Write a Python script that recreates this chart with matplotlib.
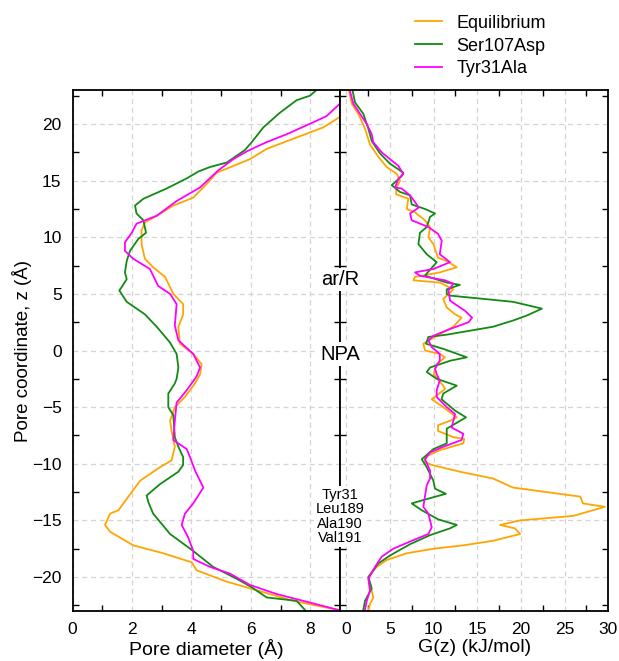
import numpy as np
import matplotlib
matplotlib.use("Agg")
import matplotlib.pyplot as plt
from matplotlib.ticker import MultipleLocator

plt.rcParams['font.family'] = ['Liberation Sans', 'DejaVu Sans']

names = ['Equilibrium', 'Ser107Asp', 'Tyr31Ala']
colors = ['#ffa500', '#138a13', '#ff00ff']

# pore diameter profiles (z in A, diameter in A)
z_diam_eq = [20.6, 19.7, 18.7, 17.8, 16.9, 16.3, 15.7, 14.7, 13.5, 12.8, 11.9, 11.3, 10.6, 9.4, 8.1,
             7.35, 6.5, 5.0, 4.1, 3.2, 2.1, 0.6, -0.3, -1.2, -2.1, -2.9, -4.1, -5.0, -6.2, -7.1,
             -8.5, -9.7, -10.3, -11.5, -12.5, -14.1, -14.4, -15.4, -16.0, -17.2, -17.9, -18.7,
             -19.4, -20.4, -21.0, -22.1, -22.9]
diam_eq = [8.98, 8.44, 7.43, 6.53, 5.97, 5.41, 4.85, 4.51, 4.06, 3.39, 2.83, 2.43, 2.32, 2.32, 2.43,
           2.71, 3.11, 3.39, 3.72, 3.72, 3.56, 3.61, 4.06, 4.34, 4.29, 4.12, 3.78, 3.44, 3.28, 3.33,
           3.44, 3.33, 2.94, 2.27, 1.99, 1.54, 1.26, 1.09, 1.26, 2.04, 3.05, 4.01,
           4.17, 5.18, 5.97, 7.43, 8.94]

z_diam_s107 = [23.0, 22.5, 22.1, 21.0, 19.7, 18.4, 17.7, 16.6, 16.2, 15.8, 15.2, 14.3, 13.4, 12.8,
               12.1, 11.5, 10.4, 9.85, 8.8, 7.9, 6.9, 6.3, 5.6, 5.3, 4.3, 3.2, 2.1, 0.7, -0.3, -1.5,
               -2.5, -2.9, -3.8, -5.0, -5.7, -7.65, -8.5, -9.4, -10.1, -10.7, -11.8, -12.8, -13.4,
               -14.4, -16.2, -17.7, -19.1, -20.15, -20.9, -21.8, -22.1, -22.9]
diam_s107 = [8.21, 7.99, 7.54, 6.98, 6.42, 6.03, 5.80, 5.19, 4.62, 4.23, 3.84, 3.16, 2.38, 2.10,
             2.15, 2.38, 2.47, 2.21, 1.93, 1.82, 1.76, 1.82, 1.65, 1.57, 1.82, 2.43, 2.83, 3.28, 3.50, 3.56,
             3.50, 3.44, 3.22, 3.22, 3.39, 3.44, 3.56, 3.72, 3.72, 3.56, 2.94, 2.49, 2.55,
             2.71, 3.28, 4.06, 4.73, 5.52, 6.03, 6.53, 7.54, 7.82]

z_diam_y31 = [21.8, 20.7, 20.15, 19.1, 18.4, 17.65, 16.9, 15.9, 14.4, 13.2, 11.9, 11.2, 10.4, 9.55,
              8.8, 8.1, 7.2, 5.7, 5.0, 4.1, 2.2, 0.9, -0.3, -1.5, -2.3, -3.5, -4.6, -6.2, -7.9,
              -8.7, -9.4, -10.6, -12.1, -13.5, -14.4, -15.4, -16.5, -17.7, -18.4, -19.1, -19.7,
              -20.7, -21.5, -22.1, -22.9]
diam_y31 = [9.0, 8.55, 8.10, 7.21, 6.53, 5.91, 5.41, 4.90, 4.29, 3.50, 2.83, 2.15, 1.99, 1.76,
            1.76, 2.04, 2.60, 2.88, 3.28, 3.50, 3.44, 3.56, 4.06, 4.29, 4.17, 3.84, 3.50, 3.44, 3.39,
            3.84, 3.95, 4.12, 4.40, 4.06, 3.78, 3.67, 3.89, 4.06, 4.06, 4.62, 5.30,
            5.97, 6.87, 7.76, 8.94]

# free energy profiles G(z) in kJ/mol
z_g_eq = [22.9, 21.8, 20.9, 19.6, 18.2, 17.1, 16.2, 15.6, 15.0, 14.4, 13.8, 13.4, 12.5, 12.2, 11.5,
          10.9, 10.0, 9.4, 8.2, 7.9, 7.35, 6.9, 6.5, 6.2, 6.0, 5.4, 4.55, 3.8, 3.2, 2.9, 2.1, 1.3,
          0.6, 0.0, -0.3, -0.6, -1.2, -2.1, -3.1, -3.4, -4.3, -5.0, -5.9, -6.2, -6.6, -7.1,
          -7.65, -7.8, -8.2, -8.8, -9.4, -9.85, -10.1, -10.7, -11.3, -12.1, -12.9, -13.5, -13.8,
          -14.6, -15.0, -15.4, -15.7, -16.2, -16.8, -17.2, -17.5, -17.9, -18.5, -19.1, -20.0,
          -21.2, -21.8, -22.4, -22.9]
g_eq = [0.34, 0.62, 1.37, 2.14, 2.71, 3.67, 4.62, 5.77, 6.15, 5.77, 5.69, 7.10, 6.92, 7.87, 9.0,
        9.59, 9.40, 9.97, 10.5, 11.5, 12.65, 10.7, 7.87, 7.68, 10.7, 12.26, 11.1, 11.5, 12.45, 13.2,
        12.26, 10.35, 8.82, 9.02, 10.7, 11.3, 10.35, 10.0, 11.1, 11.3, 9.78, 11.1, 12.65, 11.88,
        10.5, 10.5, 12.26, 13.5, 13.4, 10.7, 9.0, 9.0, 9.78, 13.0, 16.8, 19.1, 26.8, 27.1, 29.6,
        26.0, 19.9, 17.6, 19.3, 19.9, 16.8, 13.4, 9.97, 6.92, 4.62, 3.48, 2.52,
        2.91, 3.09, 2.71, 2.52]

z_g_s107 = [22.9, 21.9, 20.9, 19.6, 18.5, 17.4, 16.5, 15.7, 15.4, 14.6, 14.0, 13.7, 12.9, 12.5,
            12.1, 11.8, 10.9, 10.4, 9.4, 8.5, 7.8, 6.8, 6.6, 6.0, 5.8, 5.4, 5.0, 4.85, 4.3, 3.7,
            3.1, 2.65, 2.1, 1.4, 1.2, 0.6, 0.15, -0.6, -0.9, -1.5, -1.9, -2.5, -3.1, -3.8, -4.3,
            -5.3, -5.9, -6.9, -8.2, -8.7, -9.6, -10.3, -11.5, -12.2, -12.65, -13.2, -13.5, -14.1,
            -14.9, -15.4, -15.7, -16.3, -17.1, -18.1, -18.8, -20.0, -21.0, -22.1, -22.9]
g_s107 = [0.73, 1.0, 1.95, 2.52, 2.91, 3.86, 5.0, 6.53, 6.34, 5.2, 6.15, 7.30, 7.49, 9.0,
          10.16, 9.59, 9.21, 8.44, 8.25, 9.21, 10.35, 9.21, 9.02, 11.5, 13.0, 11.5, 11.5, 11.88, 19.1, 22.4,
          20.7, 19.1, 16.8, 11.5, 9.4, 9.13, 11.1, 13.8, 11.9, 9.59, 9.21, 10.35, 12.65, 11.1, 10.9,
          12.45, 13.7, 11.5, 11.5, 9.97, 8.64, 9.21, 9.97, 10.16, 11.4, 8.82, 7.49, 8.64,
          10.5, 12.65, 11.88, 9.59, 7.30, 5.0, 3.67, 2.52, 2.91, 2.14, 1.95]

z_g_y31 = [22.9, 21.8, 20.9, 20.0, 19.1, 18.4, 17.5, 16.9, 16.3, 15.6, 15.15, 14.4, 14.3, 13.7,
           12.9, 12.6, 12.1, 11.5, 10.9, 10.3, 9.7, 8.5, 7.8, 7.2, 6.9, 6.6, 6.2, 5.9, 5.3, 4.4,
           3.5, 2.9, 2.5, 1.9, 1.3, 0.9, 0.3, -0.3, -0.9, -1.6, -2.1, -2.65, -3.5, -4.1, -5.0,
           -5.6, -6.8, -7.35, -7.9, -8.5, -9.0, -9.6, -10.6, -11.3, -11.9, -12.8, -13.8, -14.4,
           -15.6, -16.2, -16.8, -17.5, -18.2, -19.1, -20.15, -21.2, -22.1, -22.9]
g_y31 = [0.42, 0.80, 1.57, 2.34, 2.91, 3.09, 4.05, 5.0, 5.96, 6.53, 5.96, 5.58, 6.34, 7.30,
         8.06, 8.25, 7.30, 7.49, 9.40, 10.5, 10.93, 10.7, 11.88, 9.97, 7.87, 8.44, 11.3, 12.26, 11.7, 11.88,
         13.6, 14.4, 14.0, 11.88, 9.97, 9.40, 9.78, 10.7, 10.7, 10.16, 10.35, 10.7, 10.35, 10.35, 11.5,
         12.45, 12.07, 13.4, 13.2, 11.1, 9.59, 9.02, 9.59, 9.59, 9.21, 9.02, 8.82, 9.40,
         9.78, 9.40, 7.49, 5.38, 4.05, 3.29, 2.52, 2.71, 2.34, 2.14]

diam_series = [(diam_eq, z_diam_eq), (diam_s107, z_diam_s107), (diam_y31, z_diam_y31)]
g_series = [(g_eq, z_g_eq), (g_s107, z_g_s107), (g_y31, z_g_y31)]

fig = plt.figure(figsize=(6.19, 6.61), dpi=100)
ax1 = fig.add_axes([0.1174, 0.0756, 0.4318, 0.7882])
ax2 = fig.add_axes([0.5493, 0.0756, 0.4334, 0.7882], sharey=ax1)

for (x, z), c, n in zip(diam_series, colors, names):
    ax1.plot(x, z, color=c, lw=1.3, label=n)
for (x, z), c in zip(g_series, colors):
    ax2.plot(x, z, color=c, lw=1.3)

ax1.set_xlim(0, 9)
ax2.set_xlim(-0.72, 30)
ax1.set_ylim(-23, 23)

ax1.xaxis.set_major_locator(MultipleLocator(2))
ax1.xaxis.set_minor_locator(MultipleLocator(2, offset=1))
ax2.xaxis.set_major_locator(MultipleLocator(5))
ax2.xaxis.set_minor_locator(MultipleLocator(5, offset=2.5))
ax1.yaxis.set_major_locator(MultipleLocator(5))
ax1.yaxis.set_minor_locator(MultipleLocator(5, offset=2.5))

for ax in (ax1, ax2):
    ax.grid(True, which='major', color='#d4d4d4', ls=(0, (4, 3)), lw=0.9)
    ax.tick_params(which='major', length=0, labelsize=12.5, pad=8)
    ax.tick_params(which='minor', direction='in', length=4.5, width=1.0,
                   top=True, bottom=True, left=True, right=True)
    for sp in ax.spines.values():
        sp.set_linewidth(1.3)
ax2.tick_params(axis='y', which='both', labelleft=False)

ax1.set_xlabel('Pore diameter (Å)', fontsize=14, labelpad=1)
ax2.set_xlabel('G(z) (kJ/mol)', fontsize=14, labelpad=1)
ax1.set_ylabel('Pore coordinate, z (Å)', fontsize=13.5, labelpad=0)

# region labels sitting on the shared spine
xmid = 0.5493
box = dict(facecolor='white', edgecolor='none', pad=1.5)
fig.text(xmid, 1 - 279.3 / 661, 'ar/R', ha='center', va='center', fontsize=14.5, bbox=box, zorder=5)
fig.text(xmid, 1 - 354 / 661, 'NPA', ha='center', va='center', fontsize=14.5, bbox=box, zorder=5)
fig.text(xmid, 1 - 516.5 / 661, 'Tyr31\nLeu189\nAla190\nVal191', ha='center', va='center',
         fontsize=10.5, linespacing=1.05, bbox=box, zorder=5)

fig.legend(loc='upper left', bbox_to_anchor=(0.67, 0.978), frameon=False, fontsize=13,
           handlelength=1.5, handletextpad=0.8, labelspacing=0.33, borderpad=0, borderaxespad=0)

fig.savefig('out.png', dpi=100)
